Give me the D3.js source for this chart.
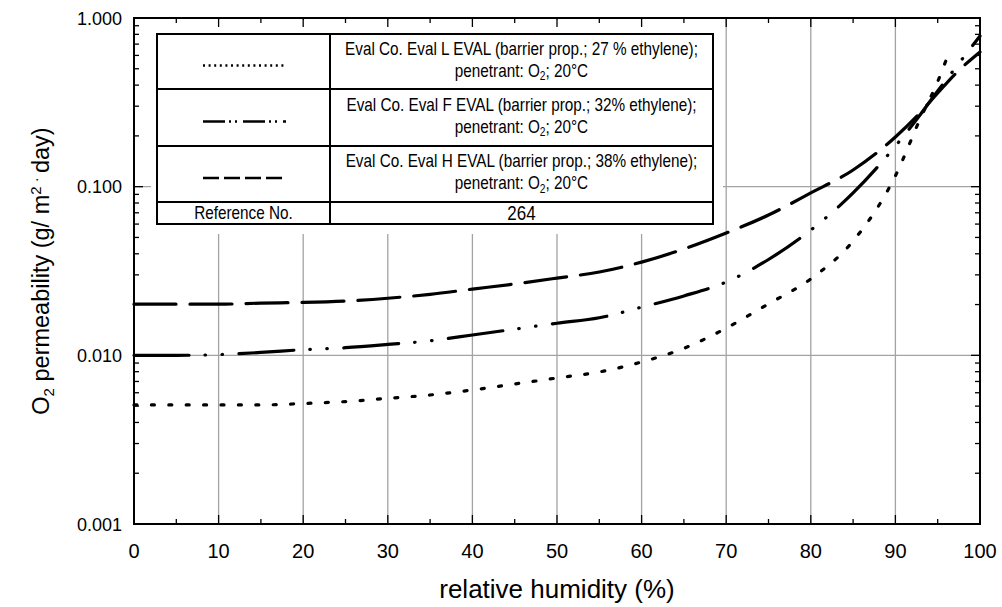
<!DOCTYPE html>
<html>
<head>
<meta charset="utf-8">
<script src="https://cdn.jsdelivr.net/npm/d3@7"></script>
<style>
  body { margin: 0; background: #fff; }
  svg text { font-family: "Liberation Sans", Arial, sans-serif; fill: #000; }
</style>
</head>
<body>
<svg id="chart" width="1002" height="607"></svg>
<script>
// Relative humidity (%) sampled for each film
const humidityHF = [0, 5, 10, 15, 20, 25, 30, 35, 40, 45, 50, 55, 60, 65, 70, 75, 80, 85, 90, 93, 95, 97, 100];
const humidityL  = [0, 5, 10, 15, 20, 25, 30, 35, 40, 45, 50, 55, 60, 65, 70, 75, 80, 85, 90, 93, 95, 96];

// O2 permeability (g / m2 · day)
const evalL = [0.00508, 0.00508, 0.00508, 0.00508, 0.00518, 0.00532, 0.00556, 0.00582, 0.00623, 0.00676,
               0.00734, 0.00797, 0.00913, 0.0110, 0.0145, 0.0202, 0.0284, 0.0476, 0.116, 0.257, 0.420, 0.564];
const evalF = [0.0100, 0.0100, 0.0101, 0.0104, 0.0108, 0.0111, 0.0116, 0.0122, 0.0132, 0.0143,
               0.0155, 0.0167, 0.0193, 0.0225, 0.0272, 0.0370, 0.0553, 0.0918, 0.174, 0.270, 0.369, 0.499, 0.782];
const evalH = [0.0201, 0.0201, 0.0201, 0.0204, 0.0206, 0.0210, 0.0218, 0.0230, 0.0247, 0.0265,
               0.0287, 0.0312, 0.0357, 0.0427, 0.0531, 0.0679, 0.0918, 0.1255, 0.197, 0.277, 0.359, 0.462, 0.629];

// Axis ticks
const xMajor = [0, 10, 20, 30, 40, 50, 60, 70, 80, 90, 100];
const xMinor = [5, 15, 25, 35, 45, 55, 65, 75, 85, 95];
const yMajor = [0.001, 0.01, 0.1, 1];
const yMajorLabels = ["0.001", "0.010", "0.100", "1.000"];
const xGrid = [10, 20, 30, 40, 50, 60, 70, 80, 90];
const yGrid = [0.01, 0.1];

// Legend
const legendTitles = [
  "Eval Co. Eval L EVAL (barrier prop.; 27 % ethylene);",
  "Eval Co. Eval F EVAL (barrier prop.; 32% ethylene);",
  "Eval Co. Eval H EVAL (barrier prop.; 38% ethylene);"
];
const referenceNo = "264";

const svg = d3.select("#chart");
const plot = { left: 134, top: 18, right: 980, bottom: 524 };

const x = d3.scaleLinear().domain([0, 100]).range([plot.left, plot.right]);
const y = d3.scaleLog().domain([0.001, 1]).range([plot.bottom, plot.top]);

const yMinor = [];
[0.001, 0.01, 0.1].forEach(d => { for (let k = 2; k <= 9; k++) yMinor.push(d * k); });

// condensed text: regular face squeezed horizontally
const narrowText = (sel, cx, cy, size) => sel.append("text")
  .attr("transform", `translate(${cx},${cy}) scale(0.85,1)`)
  .attr("text-anchor", "middle").attr("font-size", size);

// gridlines
const grid = svg.append("g");
grid.selectAll("line.gx").data(xGrid).join("line")
  .attr("x1", d => x(d)).attr("x2", d => x(d))
  .attr("y1", plot.top).attr("y2", plot.bottom)
  .attr("stroke", "#a3a3a3").attr("stroke-width", 1.3);
grid.selectAll("line.gy").data(yGrid).join("line")
  .attr("x1", plot.left).attr("x2", plot.right)
  .attr("y1", d => y(d)).attr("y2", d => y(d))
  .attr("stroke", "#a3a3a3").attr("stroke-width", 1.3);

// legend backing hides the gridlines beneath it
const lg = { left: 157, right: 713, rows: [34, 89, 146, 202, 224], split: 330 };
svg.append("rect")
  .attr("x", lg.left - 6).attr("y", plot.top + 2)
  .attr("width", lg.right - lg.left + 16).attr("height", lg.rows[4] - plot.top + 8)
  .attr("fill", "#fff");

// curves
const line = d3.line().x(d => x(d[0])).y(d => y(d[1])).curve(d3.curveMonotoneX);
const series = [
  { hum: humidityL, val: evalL, dash: "3,14.4", sample: "2,3.6" },
  { hum: humidityHF, val: evalF, dash: "55,16,0.5,16.5,0.5,16.5", sample: "22,4,2,4,2,6" },
  { hum: humidityHF, val: evalH, dash: "42,14", sample: "16,5" }
];
const curves = svg.append("g");
series.forEach(s => {
  curves.append("path")
    .datum(s.hum.map((h, i) => [h, s.val[i]]))
    .attr("d", line)
    .attr("fill", "none")
    .attr("stroke", "#000")
    .attr("stroke-width", 3.2)
    .attr("stroke-linecap", "round")
    .attr("stroke-dasharray", s.dash);
});

// axes frame and ticks
const axes = svg.append("g").attr("stroke", "#000");
const tick = (x1, y1, x2, y2, w) => axes.append("line")
  .attr("x1", x1).attr("y1", y1).attr("x2", x2).attr("y2", y2).attr("stroke-width", w);

xMajor.forEach(d => { tick(x(d), plot.bottom, x(d), plot.bottom - 9, 1.3); tick(x(d), plot.top, x(d), plot.top + 9, 1.3); });
xMinor.forEach(d => { tick(x(d), plot.bottom, x(d), plot.bottom - 5, 1.3); tick(x(d), plot.top, x(d), plot.top + 5, 1.3); });
yMajor.forEach(d => { tick(plot.left, y(d), plot.left + 9, y(d), 1.3); tick(plot.right, y(d), plot.right - 9, y(d), 1.3); });
yMinor.forEach(d => { tick(plot.left, y(d), plot.left + 5, y(d), 1.3); tick(plot.right, y(d), plot.right - 5, y(d), 1.3); });

axes.append("rect")
  .attr("x", plot.left).attr("y", plot.top)
  .attr("width", plot.right - plot.left).attr("height", plot.bottom - plot.top)
  .attr("fill", "none").attr("stroke-width", 2);

// tick labels
svg.append("g").selectAll("text").data(xMajor).join("text")
  .attr("x", d => x(d)).attr("y", 558)
  .attr("text-anchor", "middle").attr("font-size", 20)
  .text(d => d);
svg.append("g").selectAll("text").data(yMajor).join("text")
  .attr("x", 122).attr("y", d => y(d) + 6.5)
  .attr("text-anchor", "end").attr("font-size", 18)
  .text((d, i) => yMajorLabels[i]);

// axis titles
svg.append("text")
  .attr("x", x(50)).attr("y", 598)
  .attr("text-anchor", "middle").attr("font-size", 26)
  .text("relative humidity (%)");

const yt = svg.append("text")
  .attr("transform", "translate(49,271) rotate(-90)")
  .attr("text-anchor", "middle").attr("font-size", 23.5);
yt.append("tspan").text("O");
yt.append("tspan").attr("font-size", 15).attr("dy", 5).text("2");
yt.append("tspan").attr("dy", -5).text(" permeability (g/ m");
yt.append("tspan").attr("font-size", 15).attr("dy", -8).text("2");
yt.append("tspan").attr("font-size", 15).attr("dy", 0).text(" · ");
yt.append("tspan").attr("dy", 8).text("day)");

// legend table
const leg = svg.append("g");
leg.append("rect")
  .attr("x", lg.left).attr("y", lg.rows[0])
  .attr("width", lg.right - lg.left).attr("height", lg.rows[4] - lg.rows[0])
  .attr("fill", "#fff").attr("stroke", "#000").attr("stroke-width", 2);
lg.rows.slice(1, 4).forEach(r => leg.append("line")
  .attr("x1", lg.left).attr("x2", lg.right).attr("y1", r).attr("y2", r)
  .attr("stroke", "#000").attr("stroke-width", 2));
leg.append("line")
  .attr("x1", lg.split).attr("x2", lg.split).attr("y1", lg.rows[0]).attr("y2", lg.rows[4])
  .attr("stroke", "#000").attr("stroke-width", 2);

const textCx = (lg.split + lg.right) / 2;
series.forEach((s, i) => {
  const mid = (lg.rows[i] + lg.rows[i + 1]) / 2;
  leg.append("line")
    .attr("x1", 203).attr("x2", 286)
    .attr("y1", mid + 4).attr("y2", mid + 4)
    .attr("stroke", "#000").attr("stroke-width", 2.6)
    .attr("stroke-dasharray", s.sample);
  narrowText(leg, textCx, mid - 7, 18).text(legendTitles[i]);
  const t2 = narrowText(leg, textCx, mid + 15, 18);
  t2.append("tspan").text("penetrant: O");
  t2.append("tspan").attr("font-size", 12).attr("dy", 3.5).text("2");
  t2.append("tspan").attr("dy", -3.5).text("; 20°C");
});
const refMid = (lg.rows[3] + lg.rows[4]) / 2;
narrowText(leg, (lg.left + lg.split) / 2, refMid + 6, 18).text("Reference No.");
narrowText(leg, textCx, refMid + 7, 20).text(referenceNo);
</script>
</body>
</html>
